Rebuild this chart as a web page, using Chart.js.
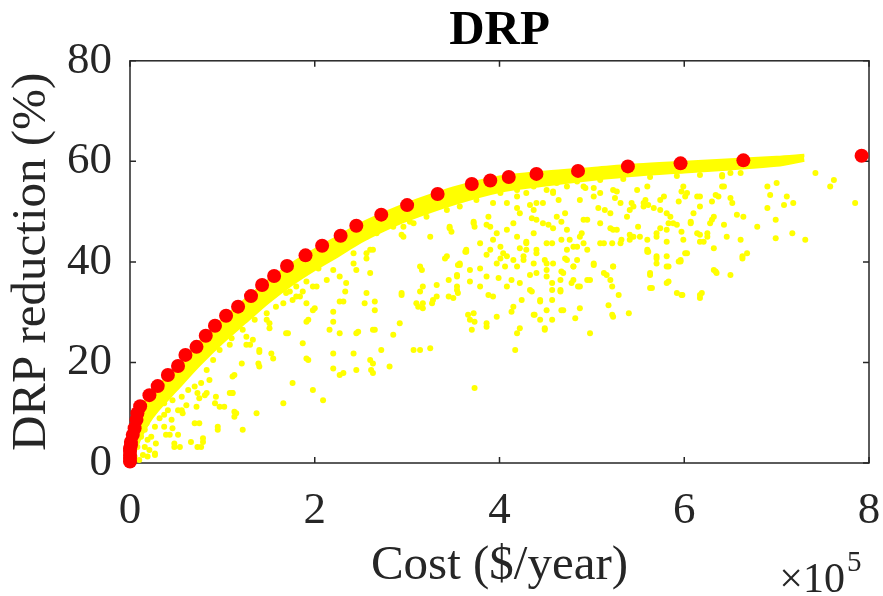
<!DOCTYPE html>
<html>
<head>
<meta charset="utf-8">
<script src="https://cdn.jsdelivr.net/npm/chart.js@4/dist/chart.umd.min.js"></script>
<style>
  body { margin: 0; background: #fff; }
  #wrap { width: 883px; height: 596px; }
</style>
</head>
<body>
<div id="wrap"><canvas id="drpchart"></canvas></div>
<script>
// cost is in units of 1e5 $/year, reduction in %
var paretoCost = [0.00, 0.00, 0.00, 0.00, 0.00, 0.01, 0.01, 0.03, 0.05, 0.07, 0.08, 0.11, 0.21, 0.30, 0.41, 0.52, 0.60, 0.72, 0.82, 0.92, 1.04, 1.17, 1.31, 1.43, 1.56, 1.70, 1.90, 2.08, 2.28, 2.45, 2.72, 3.00, 3.33, 3.70, 3.90, 4.10, 4.40, 4.85, 5.39, 5.96, 6.64, 7.92];
var paretoReduction = [0.3, 1.0, 1.6, 2.4, 2.9, 3.6, 4.2, 5.6, 6.9, 8.6, 9.9, 11.3, 13.5, 15.3, 17.5, 19.3, 21.5, 23.1, 25.3, 27.3, 29.3, 31.1, 33.2, 35.4, 37.2, 39.2, 41.3, 43.2, 45.2, 47.2, 49.4, 51.3, 53.5, 55.5, 56.2, 56.9, 57.5, 58.1, 59.0, 59.6, 60.2, 61.1];

// the dense strip of near-optimal solutions just under the front
var bandCost = [0.01, 0.05, 0.1, 0.2, 0.3, 0.5, 0.75, 1.0, 1.25, 1.5, 1.75, 2.0, 2.25, 2.5, 2.75, 3.0, 3.5, 4.0, 4.5, 5.0, 5.5, 6.0, 6.5, 7.0, 7.3];
var bandUpper = [4.5, 7.0, 10.5, 13.3, 15.2, 19.0, 24.0, 28.5, 32.5, 36.3, 39.6, 42.4, 45.0, 47.6, 49.7, 51.6, 54.7, 56.9, 57.9, 58.6, 59.3, 59.8, 60.3, 60.8, 61.2];
var bandLower = [0.5, 2.0, 4.5, 8.0, 10.5, 14.5, 19.5, 24.0, 28.0, 32.0, 35.5, 38.5, 41.2, 44.0, 46.3, 48.3, 51.5, 54.0, 55.3, 56.4, 57.3, 57.9, 58.5, 59.2, 60.2];

// remaining solutions, [cost, reduction]
var solutionsFringe = [
  [1.22,26.5],[1.26,25.1],[1.35,28.5],[1.48,29.8],[1.58,31.1],[1.66,31.8],[1.80,33.1],[1.87,34.1],[1.98,35.1],[2.13,36.4],
  [2.27,37.1],[2.42,39.7],[2.56,40.7],[0.97,22.5],[1.08,23.5],[0.90,20.5],[0.83,18.5],[0.08,3.2],[0.12,5.2],[0.16,6.6],
  [0.19,8.6],[0.23,9.9],[0.30,11.2],[0.37,11.9],[0.46,12.5],[0.56,13.2],[0.63,14.5],[0.70,15.2],[0.77,15.9],[0.86,16.5],
  [0.05,1.3],[0.10,0.6],[0.14,1.6],[0.03,2.6],[0.07,4.6],[2.56,45.0],[2.67,45.7],[2.85,47.0],[3.03,48.0],[3.21,49.0],
  [3.43,50.3],[3.57,51.0],[3.75,52.3],[4.01,53.7],[4.19,54.3],[4.37,55.0],[4.51,55.7],[4.62,55.7],[4.84,56.0],[5.09,56.3],
  [5.34,56.5],[5.63,56.9],[5.92,57.1],[6.17,57.3],[6.50,57.7]
];
var solutionsLow = [
  [0.19,1.3],[0.27,1.6],[0.16,3.2],[0.23,5.2],[0.27,7.2],[0.18,7.9],[0.37,9.6],[0.41,10.5],[0.46,6.9],[0.52,5.6],
  [0.66,4.2],[0.70,7.9],[0.56,10.5],[0.61,11.5],[0.73,13.9],[0.81,13.5],[0.92,11.9],[0.95,7.2],[0.77,3.2],[0.79,4.9],
  [1.02,11.2],[1.08,13.9],[0.48,3.2],[0.97,11.2],[0.93,13.2],[0.83,13.9],[0.75,12.9],[0.72,11.2],[0.57,9.9],[0.45,8.6],
  [0.52,10.5],[0.54,3.2],[0.48,3.9],[0.43,5.6],[0.39,5.6],[0.37,7.2],[0.32,8.9],[0.28,3.9],[0.21,2.6],[0.19,4.6],
  [0.27,1.9],[0.75,7.9],[0.79,4.2],[0.73,3.2],[0.95,6.6],[1.13,17.5],[1.11,13.9],[1.13,10.2],[1.13,9.2],[1.22,6.6],
  [1.10,24.8],[1.21,19.8]
];
var solutionsMid = [
  [1.37,9.9],[1.26,23.5],[1.33,24.5],[1.39,19.8],[1.40,22.5],[1.55,20.8],[1.71,25.8],[1.76,15.9],[2.09,12.5],[1.98,14.5],
  [1.93,20.5],[1.87,23.8],[1.91,28.1],[1.98,30.4],[2.16,26.5],[2.27,25.8],[2.27,32.1],[2.20,30.1],[2.47,26.1],[2.65,26.5],
  [2.85,25.5],[2.56,33.8],[2.60,37.8],[2.72,22.5],[2.81,19.2],[2.61,18.5],[2.45,18.5],[2.27,17.5],[2.20,21.8],[2.42,21.8],
  [2.65,30.4],[2.54,31.8],[1.48,28.5],[1.51,26.8],[1.69,33.8],[1.84,33.1],[1.76,32.4],[1.80,35.1],[1.91,36.1],[2.02,35.1],
  [2.04,38.7],[2.20,38.4],[2.34,35.8],[2.33,34.1],[2.42,41.7],[2.45,38.4],[2.56,41.7],[2.63,42.4],[2.31,32.1],[2.20,28.1],
  [2.45,25.8],[2.63,26.5],[2.60,20.5],[1.91,31.8],[1.93,28.5],[1.69,25.8],[1.51,27.8],[1.40,22.1],[1.30,23.5],[1.40,19.2],
  [1.11,17.2],[1.53,21.8],[1.91,20.8],[1.66,11.9],[1.11,13.9],[1.15,9.9],[2.20,18.8],[2.31,17.9],[2.63,17.9],[2.00,30.8],
  [1.73,34.1],[2.96,47.0],[2.94,45.4],[2.94,33.8],[2.92,27.8],[2.60,42.4],[2.65,32.1],[2.63,19.8],[2.96,45.0],[2.94,33.4]
];
var solutionsHigh = [
  [3.07,47.7],[3.46,47.0],[3.48,46.0],[3.25,45.0],[3.14,39.1],[3.43,41.1],[3.64,42.4],[3.57,39.7],[3.97,39.7],[4.08,41.1],
  [3.90,47.0],[3.97,45.7],[3.79,43.7],[3.72,47.7],[3.41,40.7],[3.63,42.0],[3.86,41.4],[4.01,40.7],[4.26,40.4],[4.40,41.7],
  [4.51,39.7],[3.16,38.4],[3.55,39.4],[3.54,37.4],[3.68,38.4],[3.79,38.7],[3.68,36.1],[3.45,36.4],[3.99,36.8],[4.13,36.4],
  [4.19,39.1],[4.33,37.4],[4.40,37.8],[4.51,38.4],[4.67,38.1],[4.80,39.1],[4.66,36.4],[4.78,35.8],[4.87,35.1],[4.98,36.4],
  [3.88,33.4],[3.79,35.1],[3.54,34.4],[3.50,32.8],[3.28,32.4],[3.32,33.1],[3.17,35.1],[3.14,34.1],[3.10,31.8],[3.17,30.8],
  [3.66,29.5],[3.73,28.1],[3.70,26.5],[3.86,27.1],[3.14,22.5],[3.25,22.8],[3.73,14.9],[4.17,22.5],[4.19,25.8],[4.22,26.8],
  [4.49,26.8],[4.57,28.5],[4.38,29.5],[4.13,30.1],[4.15,31.1],[4.24,32.4],[4.35,34.1],[4.44,32.4],[4.57,34.4],[4.66,34.1],
  [4.67,30.4],[4.82,28.8],[4.87,30.8],[3.46,46.7],[3.64,42.0],[3.73,47.0],[3.72,48.0],[3.86,47.4],[3.93,44.4],[3.90,42.4],
  [4.01,43.0],[4.08,46.4],[4.15,47.7],[4.22,42.7],[4.29,42.4],[4.29,44.0],[4.37,45.7],[4.40,48.4],[4.37,50.3],[4.33,51.3],
  [4.19,50.7],[4.08,51.7],[3.93,51.7],[3.88,49.0],[4.47,51.7],[4.53,47.4],[4.57,43.7],[4.49,40.4],[4.37,39.7],[4.26,41.1],
  [4.15,40.4],[4.04,41.7],[4.06,39.1],[3.86,37.1],[3.57,39.4],[3.54,37.1],[3.32,35.4],[3.54,35.1],[3.55,33.8],[3.45,33.1],
  [3.27,31.8],[3.12,31.1],[3.07,22.5],[3.17,31.8],[4.37,29.5],[4.44,28.5],[4.51,30.4],[4.57,32.4],[4.44,32.1],[4.33,34.4],
  [4.22,35.8],[4.08,35.1],[3.72,29.8],[3.68,28.5],[3.86,27.8],[3.97,29.1],[3.93,33.1],[4.49,26.5],[4.51,37.1],[4.57,35.8],
  [4.19,53.0],[4.29,53.7],[4.40,51.7],[4.51,54.3],[4.22,49.7],[4.35,48.7],[4.47,47.7],[4.19,45.0],[4.29,43.7],[4.40,42.4],
  [4.51,43.7]
];
var solutionsExpensive = [
  [4.58,53.7],[4.73,55.0],[4.91,55.0],[5.02,53.0],[5.09,53.7],[5.23,54.3],[5.31,51.7],[5.45,51.0],[5.56,51.7],[5.60,55.0],
  [5.74,50.3],[5.85,49.0],[4.62,49.0],[4.73,46.4],[4.95,48.4],[4.87,45.0],[5.09,47.7],[5.20,49.7],[5.23,46.4],[5.38,49.0],
  [5.41,44.4],[5.52,45.0],[5.70,45.0],[5.81,46.4],[5.88,47.7],[4.58,39.7],[4.73,42.4],[4.84,43.0],[4.95,42.4],[5.09,43.7],
  [5.31,43.7],[5.45,45.0],[5.60,42.4],[5.70,39.7],[5.81,41.1],[4.71,40.7],[4.84,40.4],[5.02,39.4],[5.23,39.1],[5.60,42.0],
  [5.70,40.7],[5.81,39.1],[5.94,40.1],[5.16,37.4],[5.20,36.4],[5.63,37.4],[5.81,35.8],[5.92,33.8],[5.65,34.8],[5.29,33.4],
  [5.18,31.4],[5.23,29.1],[5.40,29.8],[4.98,25.8],[4.58,54.0],[4.64,52.3],[4.71,49.7],[4.67,48.0],[4.58,46.7],[4.76,44.4],
  [4.67,44.4],[4.89,45.7],[4.91,48.4],[4.87,52.3],[4.93,54.7],[5.02,54.7],[5.07,50.7],[5.14,50.3],[5.27,54.0],[5.25,52.7],
  [5.41,50.3],[5.43,51.7],[5.49,54.3],[5.56,51.0],[5.61,51.3],[5.58,52.3],[5.67,50.7],[5.74,52.3],[5.81,49.7],[5.83,47.7],
  [5.74,46.7],[5.70,45.7],[5.60,44.4],[5.50,47.0],[5.41,45.4],[5.27,46.4],[5.20,46.7],[5.13,43.7],[5.22,43.7],[5.32,44.4],
  [4.91,43.7],[4.80,43.0],[4.73,40.4],[4.80,39.1],[4.69,37.8],[4.80,36.4],[4.85,35.1],[4.66,34.4],[4.95,36.4],[5.02,39.7],
  [5.13,37.8],[5.23,39.1],[5.22,35.1],[5.22,29.5],[4.69,30.4],[5.63,37.8],[5.70,41.1],[5.61,42.0],[5.83,36.1],[5.63,34.8],
  [5.98,33.4],[5.96,40.4],[5.99,44.4],[5.94,52.0],[5.99,55.0],[5.83,39.1],[5.97,33.4],[5.96,40.1],[5.81,44.0],[5.92,47.4],
  [5.97,46.0],[5.78,53.0],[5.97,54.0],[6.03,41.7],[6.07,47.7],[6.10,49.7],[6.17,51.0],[6.14,53.0],[6.03,53.7],[6.17,45.4],
  [6.30,48.4],[6.30,52.0],[6.34,53.3],[6.41,55.0],[6.41,57.3],[6.50,52.7],[6.52,51.7],[6.57,49.4],[6.64,49.0],[6.43,47.4],
  [6.46,45.0],[6.61,44.4],[6.68,41.7],[6.63,40.7],[6.32,38.4],[6.35,37.8],[6.50,37.4],[6.21,44.0],[6.25,45.0],[6.19,33.8],
  [6.17,32.8],[6.17,33.4],[6.34,38.1],[6.63,41.1],[6.41,57.0],[6.43,55.0],[6.61,57.7],[6.90,55.0],[7.00,55.7],[6.93,53.3],
  [7.11,53.0],[7.18,51.7],[7.08,51.3],[6.90,50.7],[6.99,48.4],[6.79,47.0],[6.37,53.0],[6.32,49.0],[6.28,47.7],[6.17,53.0],
  [6.14,45.7],[6.25,45.7],[6.17,44.0],[6.32,42.7],[6.01,41.7],[6.07,48.0],[6.01,53.0],[7.42,57.7],[7.58,55.0],[7.62,56.3],
  [7.85,51.7],[6.99,44.7],[7.17,45.7],[7.31,44.4]
];

var costTicks = [0, 2, 4, 6, 8];
var reductionTicks = [0, 20, 40, 60, 80];

var serif = "'Liberation Serif', 'Times New Roman', serif";
var axisColor = '#262626';

var toPoints = function(xs, ys) {
  return xs.map(function(v, i) { return {x: v, y: ys[i]}; });
};
var pairsToPoints = function(list) {
  return list.map(function(p) { return {x: p[0], y: p[1]}; });
};
var solutions = [].concat(solutionsFringe, solutionsLow, solutionsMid, solutionsHigh, solutionsExpensive);

// MATLAB style box with inward ticks on every side, plus the x10^5 multiplier
var axesBox = {
  id: 'axesBox',
  beforeDatasetsDraw: function(chart) {
    var ctx = chart.ctx, a = chart.chartArea;
    var sx = chart.scales.x, sy = chart.scales.y;
    ctx.save();
    ctx.strokeStyle = axisColor;
    ctx.lineWidth = 1.5;
    ctx.strokeRect(a.left, a.top, a.right - a.left, a.bottom - a.top);
    ctx.beginPath();
    sx.ticks.forEach(function(t) {
      var px = sx.getPixelForValue(t.value);
      ctx.moveTo(px, a.bottom); ctx.lineTo(px, a.bottom - 6);
      ctx.moveTo(px, a.top); ctx.lineTo(px, a.top + 6);
    });
    sy.ticks.forEach(function(t) {
      var py = sy.getPixelForValue(t.value);
      ctx.moveTo(a.left, py); ctx.lineTo(a.left + 6, py);
      ctx.moveTo(a.right, py); ctx.lineTo(a.right - 6, py);
    });
    ctx.stroke();
    ctx.restore();
  },
  afterDraw: function(chart) {
    var ctx = chart.ctx, a = chart.chartArea;
    ctx.save();
    ctx.fillStyle = axisColor;
    ctx.textBaseline = 'alphabetic';
    ctx.textAlign = 'right';
    ctx.font = '42px ' + serif;
    var base = 592;
    ctx.fillText('\u00d710', a.right - 24, base);
    ctx.textAlign = 'left';
    ctx.font = '29px ' + serif;
    ctx.fillText('5', a.right - 22, base - 21);
    ctx.restore();
  }
};

var ctx = document.getElementById('drpchart').getContext('2d');
var drpChart = new Chart(ctx, {
  type: 'scatter',
  data: {
    datasets: [
      {
        label: 'Pareto front',
        data: toPoints(paretoCost, paretoReduction),
        backgroundColor: '#ff0000',
        borderWidth: 0,
        pointRadius: 7,
        clip: false,
        order: 0
      },
      {
        label: 'Solutions',
        data: pairsToPoints(solutions),
        backgroundColor: '#ffff00',
        borderWidth: 0,
        pointRadius: 3,
        clip: false,
        order: 1
      },
      {
        type: 'line',
        label: 'Band upper',
        data: toPoints(bandCost, bandUpper),
        borderColor: '#ffff00',
        backgroundColor: '#ffff00',
        borderWidth: 3,
        pointRadius: 0,
        tension: 0.3,
        fill: '+1',
        clip: false,
        order: 2
      },
      {
        type: 'line',
        label: 'Band lower',
        data: toPoints(bandCost, bandLower),
        borderColor: '#ffff00',
        borderWidth: 3,
        pointRadius: 0,
        tension: 0.3,
        fill: false,
        clip: false,
        order: 3
      }
    ]
  },
  options: {
    responsive: true,
    maintainAspectRatio: false,
    animation: false,
    layout: { padding: { left: 0, right: 14, top: 0, bottom: 0 } },
    plugins: {
      legend: { display: false },
      tooltip: { enabled: false },
      title: {
        display: true,
        fullSize: false,
        text: 'DRP',
        color: '#000',
        font: { family: serif, size: 49, weight: 'bold' },
        padding: { top: 2, bottom: 0 }
      }
    },
    scales: {
      x: {
        type: 'linear',
        min: 0,
        max: 8,
        afterFit: function(s) { s.height = 133; s.paddingLeft = 0; s.paddingRight = 0; },
        afterBuildTicks: function(s) { s.ticks = costTicks.map(function(v) { return {value: v}; }); },
        grid: { display: false, drawTicks: false },
        border: { display: false },
        ticks: {
          color: axisColor,
          padding: 21,
          maxRotation: 0,
          font: { family: serif, size: 45 }
        },
        title: {
          display: true,
          text: 'Cost ($/year)',
          color: axisColor,
          font: { family: serif, size: 49 },
          padding: { top: 0, bottom: 0 }
        }
      },
      y: {
        type: 'linear',
        min: 0,
        max: 80,
        afterFit: function(s) { s.width = 130; s.paddingTop = 0; s.paddingBottom = 0; },
        afterBuildTicks: function(s) { s.ticks = reductionTicks.map(function(v) { return {value: v}; }); },
        grid: { display: false, drawTicks: false },
        border: { display: false },
        ticks: {
          color: axisColor,
          padding: 18,
          font: { family: serif, size: 45 }
        },
        title: {
          display: true,
          text: 'DRP reduction (%)',
          color: axisColor,
          font: { family: serif, size: 49 },
          padding: { top: 3, bottom: 0 }
        }
      }
    }
  },
  plugins: [axesBox]
});
</script>
</body>
</html>
